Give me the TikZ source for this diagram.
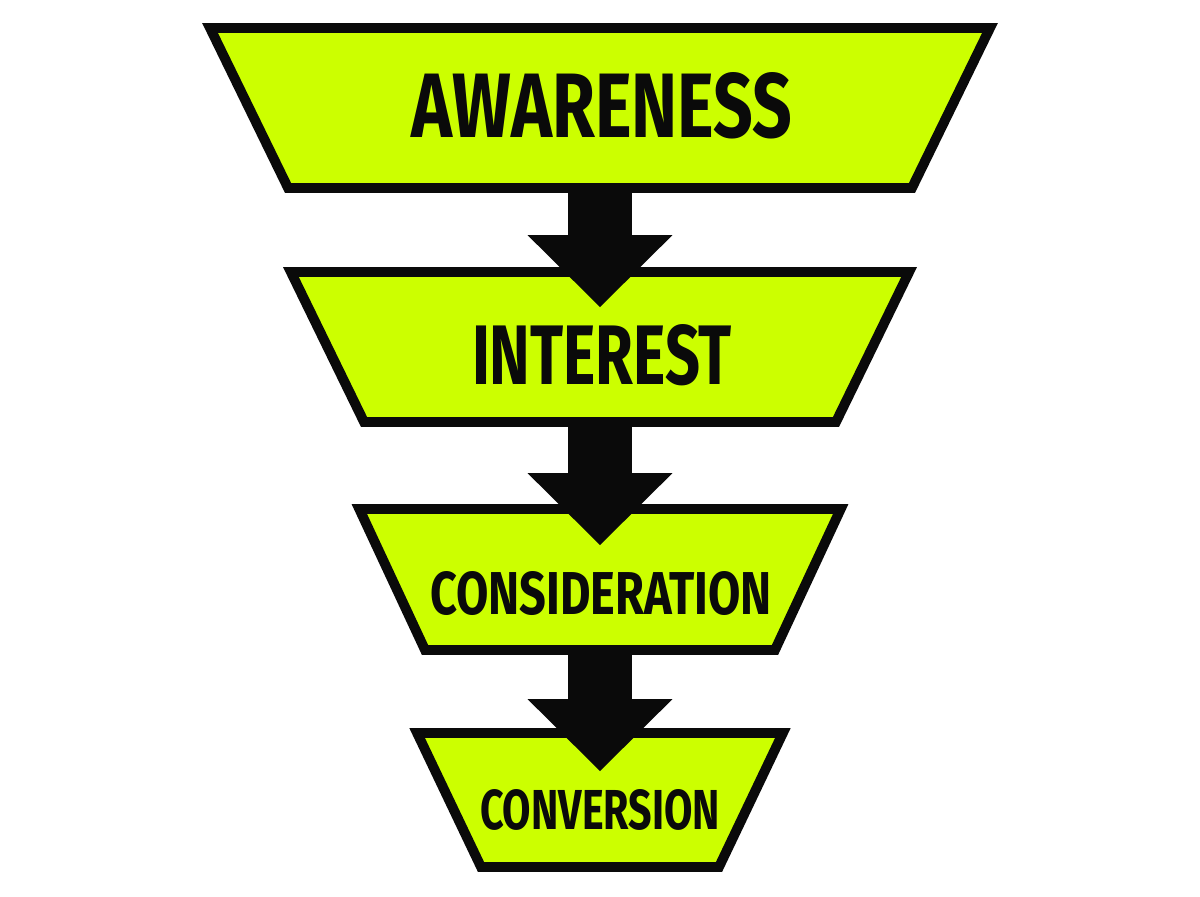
\documentclass[tikz,border=0pt]{standalone}
\usepackage{fontspec}
\setmainfont{Fira Sans}
\usepackage{tikz}
\usetikzlibrary{arrows.meta, positioning, shapes.geometric}
\usepackage{xcolor}
\definecolor{funnellime}{HTML}{CCFF00}
\definecolor{funnelink}{HTML}{0A0A0A}

\tikzset{
  stage/.style={draw=funnelink, fill=funnellime, line width=5.6pt, shape=trapezium,
    trapezium angle=64, shape border rotate=180, minimum width=0pt, minimum height=0pt},
  stagelabel/.style={inner sep=0pt, text=funnelink, font=\bfseries},
  flow/.style={draw=funnelink, line width=1.28cm,
    -{Triangle[length=1.44cm, width=2.9cm, line width=0pt]}}
}
\newcommand{\squeeze}[3]{\resizebox{#1}{#2}{#3}}

\begin{document}
\begin{tikzpicture}[x=0.02cm, y=-0.02cm]
    \useasboundingbox (0,0) rectangle (1200,896);
    \node[stage, inner xsep=6.24cm, inner ysep=1.6cm] (aware) at (600,108) {};
    \node[stage, inner xsep=4.72cm, inner ysep=1.5cm] (interest) at (600,347) {};
    \node[stage, inner xsep=3.5cm, inner ysep=1.41cm, trapezium angle=65] (consid) at (600,579.5) {};
    \node[stage, inner xsep=2.38cm, inner ysep=1.34cm, trapezium angle=64.5] (conv) at (600,800) {};
    \node[stagelabel] (awareT) at (602,105.5) {\squeeze{7.62cm}{1.3cm}{AWARENESS}};
    \node[stagelabel] (interestT) at (602,355) {\squeeze{5.2cm}{1.2cm}{INTEREST}};
    \node[stagelabel] (considT) at (601,593.5) {\squeeze{6.84cm}{0.86cm}{CONSIDERATION}};
    \node[stagelabel] (convT) at (600,810) {\squeeze{4.8cm}{0.8cm}{CONVERSION}};
    \draw[flow] (aware.south) -- ([yshift=-0.8cm]interest.north);
    \draw[flow] (interest.south) -- ([yshift=-0.82cm]consid.north);
    \draw[flow] (consid.south) -- ([yshift=-0.86cm]conv.north);
  \end{tikzpicture}
\end{document}
